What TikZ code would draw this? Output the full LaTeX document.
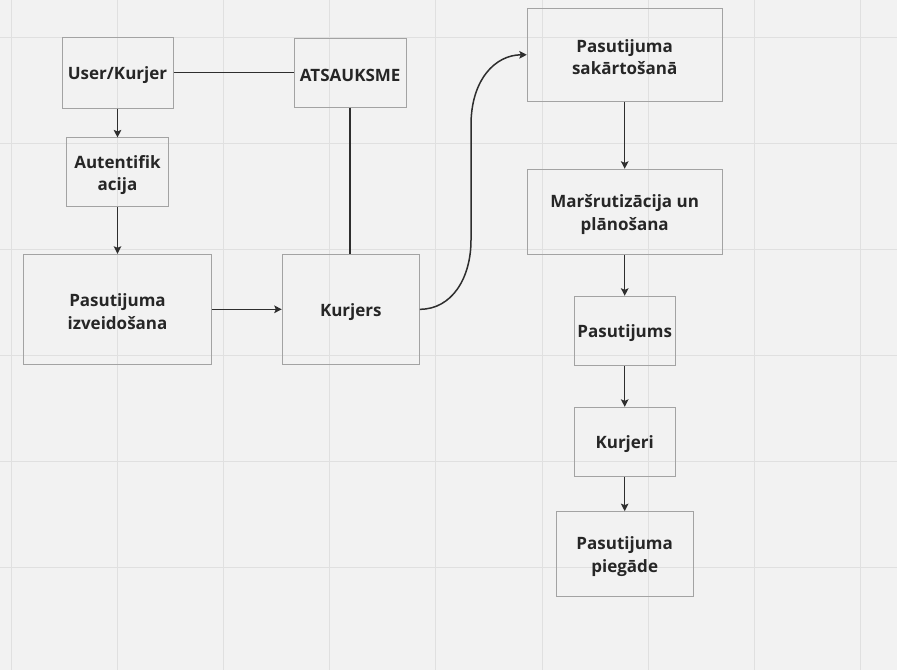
\documentclass[tikz,border=0pt]{standalone}
\usepackage{fontspec}
\setmainfont{Open Sans}[BoldFont={Open Sans Bold}]
\usetikzlibrary{arrows.meta}
\definecolor{bg}{HTML}{F2F2F2}
\definecolor{gridc}{HTML}{E0E0E0}
\definecolor{boxc}{HTML}{A3A3A3}
\definecolor{linec}{HTML}{2E2E2E}
\definecolor{txt}{HTML}{262626}
\tikzset{
  box/.style={draw=boxc, line width=1pt, rectangle, inner sep=0pt},
  lbl/.style={align=center, inner sep=0pt, yshift=-2.5pt,
    font=\fontsize{17}{22.5}\selectfont\bfseries, text=txt},
  conn/.style={draw=linec, line width=1.5pt},
  arr/.style={conn, -{Stealth[length=7.5pt,width=7.5pt,inset=1.5pt]}},
}
\begin{document}
\begin{tikzpicture}[x=1pt,y=-1pt]
\fill[bg] (0,0) rectangle (897,670);
\useasboundingbox (0,0) rectangle (897,670);
\foreach \i in {0,...,8} \draw[gridc, line width=1pt] ({11.5+106.1*\i},0) -- ({11.5+106.1*\i},670);
\foreach \j in {0,...,5} \draw[gridc, line width=1pt] (0,{37.3+106.1*\j}) -- (897,{37.3+106.1*\j});

\node[box, minimum width=111pt, minimum height=70.7pt] (user) at (117.5,72.7) {};
\node[box, minimum width=101.6pt, minimum height=68.7pt] (auth) at (117.5,172.3) {};
\node[box, minimum width=111.7pt, minimum height=68.7pt] (ats) at (350.2,72.7) {};
\node[box, minimum width=194.7pt, minimum height=93pt] (sak) at (624.7,54.8) {};
\node[box, minimum width=194.7pt, minimum height=85pt] (mar) at (624.7,211.8) {};
\node[box, minimum width=188.4pt, minimum height=110pt] (izv) at (117.5,309.3) {};
\node[box, minimum width=137pt, minimum height=110pt] (kur) at (350.8,309.3) {};
\node[box, minimum width=101.3pt, minimum height=69pt] (pas) at (624.7,330.8) {};
\node[box, minimum width=101.3pt, minimum height=68.7pt] (kri) at (624.7,441.7) {};
\node[box, minimum width=137pt, minimum height=85.3pt] (pie) at (624.7,554.3) {};

\node[lbl] (tuser) at (user) {User/Kurjer};
\node[lbl] (tauth) at (auth) {Autentifik\\acija};
\node[lbl] (tats) at (ats) {ATSAUKSME};
\node[lbl] (tsak) at (sak) {Pasutijuma\\sakārtošanā};
\node[lbl] (tmar) at (mar) {Maršrutizācija un\\plānošana};
\node[lbl] (tizv) at (izv) {Pasutijuma\\izveidošana};
\node[lbl] (tkur) at (kur) {Kurjers};
\node[lbl] (tpas) at (pas) {Pasutijums};
\node[lbl] (tkri) at (kri) {Kurjeri};
\node[lbl] (tpie) at (pie) {Pasutijuma\\piegāde};

\draw[arr] (user.south) -- (auth.north);
\draw[arr] (auth.south) -- (izv.north);
\draw[arr] (izv.east) -- (kur.west);
\draw[conn] (user.east) -- (ats.west);
\draw[conn] (ats.south) -- (ats.south |- kur.north);
\draw[arr] (kur.east) .. controls (452,309.3) and (471,278) .. (471,240) -- (471,125) .. controls (471,80) and (495,54.8) .. (sak.west);
\draw[arr] (sak.south) -- (mar.north);
\draw[arr] (mar.south) -- (pas.north);
\draw[arr] (pas.south) -- (kri.north);
\draw[arr] (kri.south) -- (pie.north);
\end{tikzpicture}
\end{document}
